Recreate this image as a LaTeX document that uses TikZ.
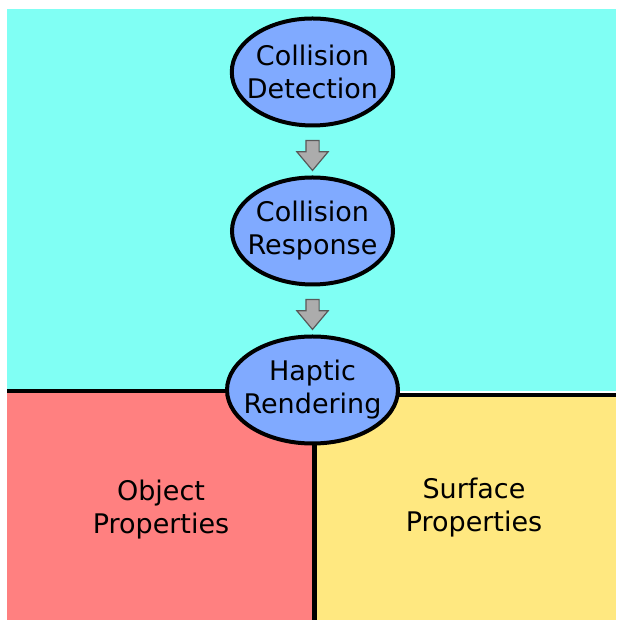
\documentclass[tikz,border=0pt]{standalone}
\usepackage{fontspec}
\setmainfont{DejaVu Sans}
\usetikzlibrary{positioning}
\usetikzlibrary{backgrounds}
\usetikzlibrary{shapes.geometric}
\usetikzlibrary{shapes.arrows}

\definecolor{loopzone}{RGB}{128,255,244}
\definecolor{objzone}{RGB}{255,128,128}
\definecolor{surfzone}{RGB}{255,232,128}
\definecolor{stagefill}{RGB}{128,170,255}

\begin{document}
\begin{tikzpicture}[x = 1pt, y = 1pt]
  \tikzstyle{stage}=[ellipse, draw = black, line width = 4pt, fill = stagefill, minimum width = 161pt, minimum height = 107pt, inner xsep = -8.5pt, inner ysep = 0pt, align = center, font = \fontsize{27}{33}\selectfont, node distance = 159pt]
  \tikzstyle{flow}=[single arrow, shape border rotate = 270, draw = gray!70!black, line width = 1.2pt, left color = gray!65, middle color = gray!10, right color = gray!65, minimum height = 30pt, single arrow head extend = 9pt, single arrow tip angle = 80, inner sep = 6pt]
  \tikzstyle{zone}=[align = center, font = \fontsize{27}{33}\selectfont]
  \tikzstyle{border}=[line width = 4.5pt]

  \useasboundingbox (0,0) rectangle (616,620);

  \node[stage] (cd) at (312.5,548) { Collision\\Detection };
  \node[stage] (cr) [below of = cd] { Collision\\Response };
  \node[stage] (hr) [below of = cr] { Haptic\\Rendering };

  \path (cd) -- node[flow] (f1) {} (cr);
  \path (cr) -- node[flow] (f2) {} (hr);

  \coordinate (wl) at (7,229);
  \coordinate (wr) at (616,225);
  \coordinate (base) at (314.5,0);

  % coloured areas and dividing lines behind the stages
  \begin{pgfonlayer}{background}
    \fill[loopzone] (7,229) rectangle (616,611);
    \fill[objzone] (wl) rectangle (base);
    \fill[surfzone] (base) rectangle (wr);
    \draw[border] (wl) -- (wl -| hr);
    \draw[border] (wr -| hr) -- (wr);
    \draw[border] (hr -| base) -- (base);
  \end{pgfonlayer}

  \node[zone] (op) at (161,110) { Object\\Properties };
  \node[zone] (sp) at (474,112) { Surface\\Properties };

\end{tikzpicture}
\end{document}
